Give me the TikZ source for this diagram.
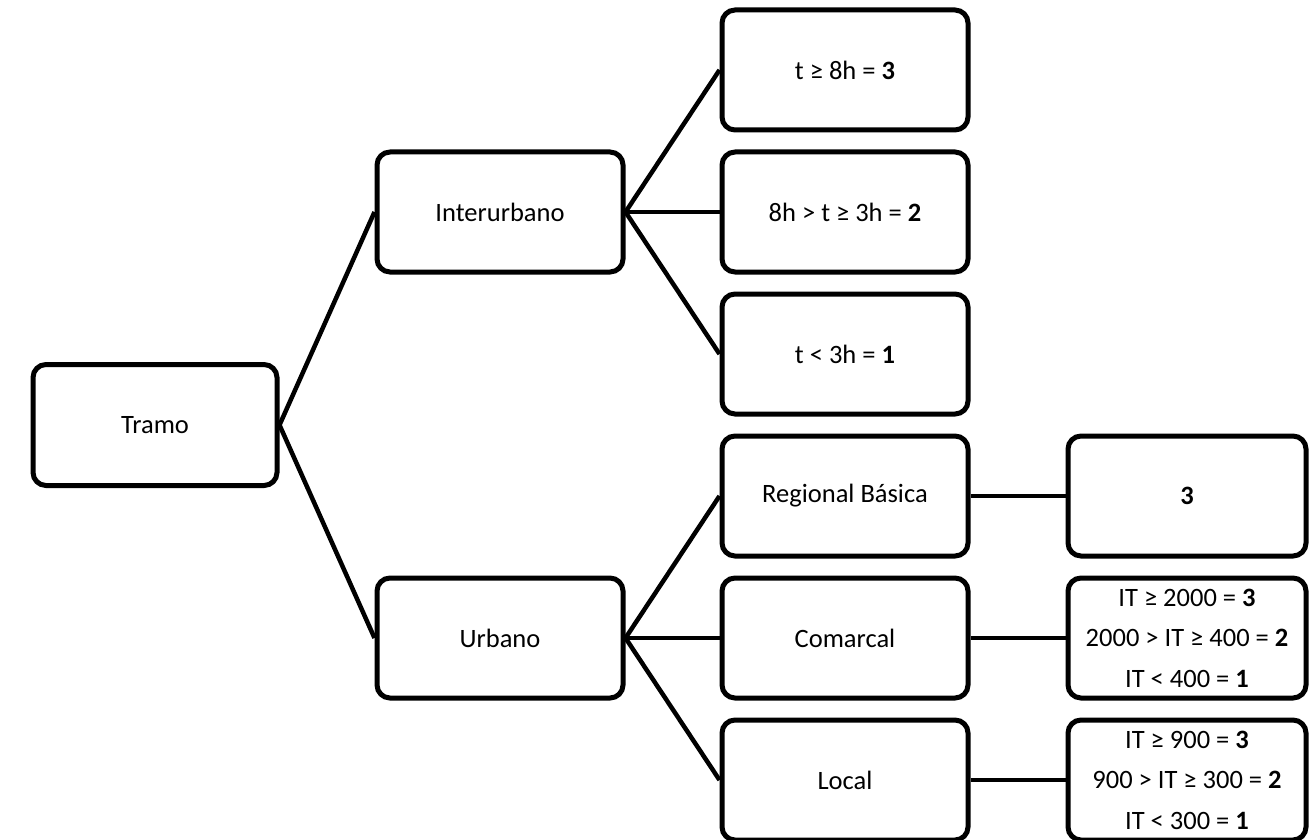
\documentclass[tikz,border=0pt]{standalone}
\usepackage{fontspec}
\setmainfont{Carlito}
\begin{document}
\begin{tikzpicture}[x=1pt,y=-1pt,
  box/.style={draw=black,line width=5pt,rounded corners=13pt,fill=white,
    minimum width=246pt,minimum height=120pt,align=center,inner sep=0pt,
    font=\fontsize{26.5}{40.5}\selectfont},
  rbox/.style={box,minimum width=238pt},
  conn/.style={line width=4.5pt}]
\useasboundingbox (0,0) rectangle (1309,840);
\node[box,minimum width=244pt,minimum height=121pt] (tramo) at (155,425) {Tramo};
\node[box] (inter) at (500,212) {Interurbano};
\node[box] (urb) at (500,638) {Urbano};
\node[box] (t3) at (845,70) {t ≥ 8h = \textbf{3}};
\node[box] (t2) at (845,212) {8h > t ≥ 3h = \textbf{2}};
\node[box] (t1) at (845,354) {t < 3h = \textbf{1}};
\node[box] (reg) at (845,496) {Regional Básica};
\node[box] (com) at (845,638) {Comarcal};
\node[box] (loc) at (845,780) {Local};
\node[rbox] (rreg) at (1187,496) {\textbf{3}};
\node[rbox] (rcom) at (1187,638) {IT ≥ 2000 = \textbf{3}\\2000 > IT ≥ 400 = \textbf{2}\\IT < 400 = \textbf{1}};
\node[rbox] (rloc) at (1187,780) {IT ≥ 900 = \textbf{3}\\900 > IT ≥ 300 = \textbf{2}\\IT < 300 = \textbf{1}};
\draw[conn] (tramo.east) -- (inter.west);
\draw[conn] (tramo.east) -- (urb.west);
\draw[conn] (inter.east) -- (t3.west);
\draw[conn] (inter.east) -- (t2.west);
\draw[conn] (inter.east) -- (t1.west);
\draw[conn] (urb.east) -- (reg.west);
\draw[conn] (urb.east) -- (com.west);
\draw[conn] (urb.east) -- (loc.west);
\draw[conn] (reg.east) -- (rreg.west);
\draw[conn] (com.east) -- (rcom.west);
\draw[conn] (loc.east) -- (rloc.west);
\end{tikzpicture}
\end{document}
